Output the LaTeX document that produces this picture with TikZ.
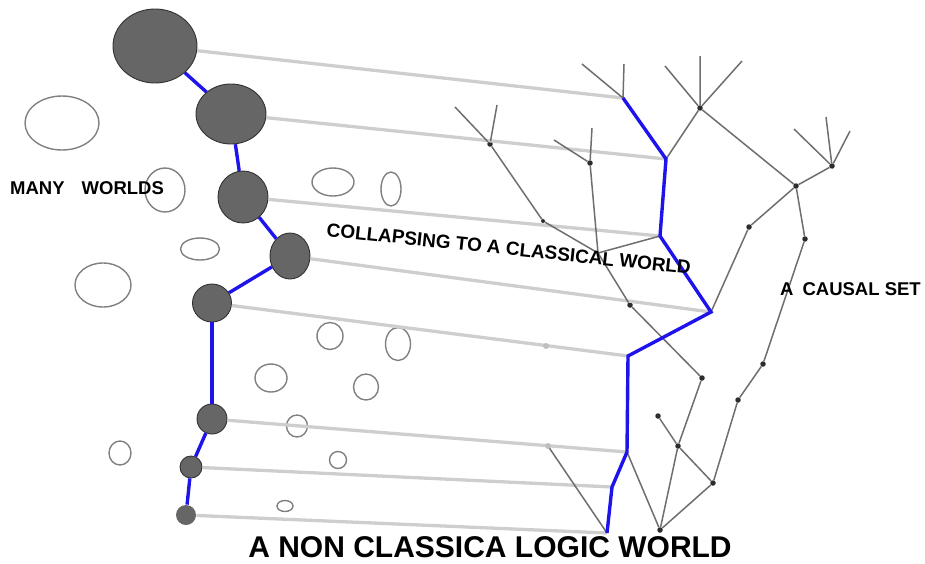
\documentclass[tikz,border=0pt]{standalone}
\usepackage{fontspec}
\setmainfont{Liberation Sans}
\usetikzlibrary{shapes.geometric}

\definecolor{worldgray}{RGB}{102,102,102}
\definecolor{worldrim}{RGB}{50,50,50}
\definecolor{bubblegray}{RGB}{128,128,128}
\definecolor{linkgray}{RGB}{206,206,206}
\definecolor{twiggray}{RGB}{110,110,110}
\definecolor{chainblue}{RGB}{30,20,235}
\definecolor{dotgray}{RGB}{45,45,45}

\begin{document}
\begin{tikzpicture}[x=1pt,y=-1pt,
  world/.style={ellipse, draw=worldrim, line width=0.9pt, fill=worldgray, inner sep=0pt},
  bubble/.style={ellipse, draw=bubblegray, line width=1.4pt, inner sep=0pt},
  link/.style={line width=3.3pt, draw=linkgray},
  twig/.style={line width=1.5pt, draw=twiggray},
  chain/.style={line width=3.4pt, draw=chainblue},
  dot/.style={circle, fill=dotgray, inner sep=0pt, minimum size=5.5pt},
  smalldot/.style={circle, fill=dotgray, inner sep=0pt, minimum size=4pt},
  ghost/.style={circle, fill=linkgray!80!gray, inner sep=0pt, minimum size=6pt},
  label/.style={font=\bfseries\fontsize{18.5}{20}\selectfont, inner sep=0pt}
]
\useasboundingbox (0,0) rectangle (925,563);

% ---------- worlds on the left ----------
\node[world, minimum width=84pt, minimum height=74pt] (w1) at (155,46) {};
\node[world, minimum width=70pt, minimum height=60pt] (w2) at (231,114) {};
\node[world, minimum width=50pt, minimum height=52pt] (w3) at (243,197) {};
\node[world, minimum width=40pt, minimum height=46pt] (w4) at (290,256) {};
\node[world, minimum width=39pt, minimum height=38pt] (w5) at (212,303) {};
\node[world, minimum width=30pt, minimum height=30pt] (w6) at (212,419) {};
\node[world, minimum width=22pt, minimum height=22pt] (w7) at (191,467) {};
\node[world, minimum width=20pt, minimum height=20pt, draw=none] (w8) at (186,515) {};

% empty worlds
\node[bubble, minimum width=74pt, minimum height=54pt] (e1) at (62,123) {};
\node[bubble, minimum width=40pt, minimum height=44pt] (e2) at (165,190) {};
\node[bubble, minimum width=39pt, minimum height=22pt] (e3) at (200,249) {};
\node[bubble, minimum width=56pt, minimum height=44pt] (e4) at (103,285) {};
\node[bubble, minimum width=22pt, minimum height=24pt] (e5) at (120,453) {};
\node[bubble, minimum width=42pt, minimum height=28pt] (e6) at (333,182) {};
\node[bubble, minimum width=20pt, minimum height=34pt] (e7) at (391,189) {};
\node[bubble, minimum width=26pt, minimum height=27pt] (e8) at (330,336) {};
\node[bubble, minimum width=25pt, minimum height=33pt] (e9) at (398,344) {};
\node[bubble, minimum width=32pt, minimum height=28pt] (e10) at (271,378) {};
\node[bubble, minimum width=25pt, minimum height=26pt] (e11) at (366,387) {};
\node[bubble, minimum width=21pt, minimum height=22pt] (e12) at (297,426) {};
\node[bubble, minimum width=17pt, minimum height=17pt] (e13) at (338,460) {};
\node[bubble, minimum width=16pt, minimum height=11pt] (e14) at (285,506) {};

% ---------- causal set: points ----------
% classical path
\coordinate (b1) at (623,98);
\coordinate (b2) at (666,159);
\coordinate (b3) at (660,236);
\coordinate (b4) at (711,312);
\coordinate (b5) at (628,356);
\coordinate (b6) at (627,452);
\coordinate (b7) at (612,487);
\coordinate (b8) at (607,533);
% inner elements
\node[dot] (na) at (700,108) {};
\node[dot] (nb) at (796,186) {};
\node[dot] (nc) at (832,166) {};
\node[dot] (nd) at (749,227) {};
\node[dot] (ne) at (805,239) {};
\node[dot] (nf) at (763,364) {};
\node[dot] (ng) at (738,400) {};
\node[dot] (nh) at (713,483) {};
\node[dot] (nbot) at (660,530) {};
\node[dot] (nm) at (490,144) {};
\node[smalldot] (nn) at (543,221) {};
\node[dot] (no) at (590,163) {};
\coordinate (np) at (598,253);
\node[dot] (nj) at (630,305) {};
\node[dot] (ni) at (702,378) {};
\node[dot] (nk) at (678,446) {};
\node[dot] (nl) at (658,416) {};
% open ends
\coordinate (l1) at (582,64);
\coordinate (l2) at (624,64);
\coordinate (l3) at (665,66);
\coordinate (l4) at (700,56);
\coordinate (l5) at (742,61);
\coordinate (l6) at (794,129);
\coordinate (l7) at (826,117);
\coordinate (l8) at (850,131);
\coordinate (l9) at (455,107);
\coordinate (l10) at (497,105);
\coordinate (l11) at (554,140);
\coordinate (l12) at (592,128);
% points lying on the projection lines
\coordinate (g5) at (546,346);
\coordinate (g6) at (548,446);

% ---------- projection lines ----------
\draw[link] (w1) -- (b1);
\draw[link] (w2) -- (b2);
\draw[link] (w3) -- (b3);
\draw[link] (w4) -- (b4);
\draw[link] (w5) -- (b5);
\draw[link] (w6) -- (b6);
\draw[link] (w7) -- (b7);
\draw[link] (w8) -- (b8);

% ---------- causal set: relations ----------
\draw[twig] (l1) -- (b1) -- (l2);
\draw[twig] (b2) -- (na);
\draw[twig] (l3) -- (na) -- (l4);
\draw[twig] (na) -- (l5);
\draw[twig] (na) -- (nb) -- (nc);
\draw[twig] (l6) -- (nc) -- (l7);
\draw[twig] (nc) -- (l8);
\draw[twig] (nb) -- (nd) -- (b4);
\draw[twig] (nb) -- (ne) -- (nf) -- (ng) -- (nh) -- (nbot);
\draw[twig] (l9) -- (nm) -- (l10);
\draw[twig] (nm) -- (nn) -- (np);
\draw[twig] (l11) -- (no) -- (l12);
\draw[twig] (no) -- (np);
\draw[twig] (b3) -- (np) -- (nj) -- (ni) -- (nk) -- (nbot);
\draw[twig] (nl) -- (nk) -- (nh);
\draw[twig] (b6) -- (nbot);
\draw[twig] (g6) -- (b8);

% ---------- classical history ----------
\draw[chain] (b1) -- (b2) -- (b3) -- (b4) -- (b5) -- (b6) -- (b7) -- (b8);
\draw[chain] (w1) -- (w2);
\draw[chain] (w2) -- (w3);
\draw[chain] (w3) -- (w4);
\draw[chain] (w4) -- (w5);
\draw[chain] (w5) -- (w6);
\draw[chain] (w6) -- (w7);
\draw[chain] (w7) -- (w8);

% points on projection lines
\node[ghost] at (g5) {};
\node[ghost] at (g6) {};

% ---------- labels ----------
\node[label, anchor=base west] (tmany) at (10,194) {MANY\hspace{17pt}WORLDS};
\node[label, anchor=base west, rotate=-6] (tcollapse) at (326,236) {\fontsize{19}{20}\selectfont COLLAPSING TO A CLASSICAL WORLD};
\node[label, anchor=base west] (tcausal) at (780,295) {A\hspace{9pt}CAUSAL SET};
\node[font=\bfseries\fontsize{30}{34}\selectfont, inner sep=0pt, anchor=base] (tlogic) at (490,557.5) {A NON CLASSICA LOGIC WORLD};
\end{tikzpicture}
\end{document}
